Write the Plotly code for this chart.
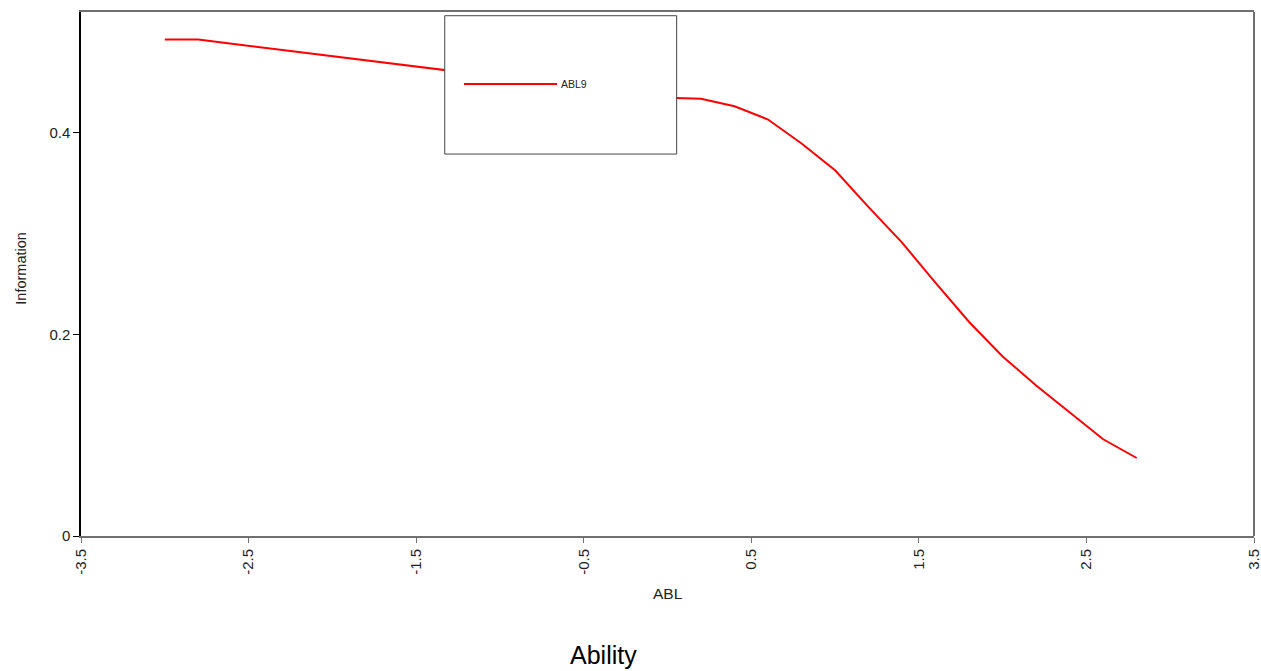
import plotly.graph_objects as go

# Item information curve for ABL9 over the ability scale
ability = [-3.0, -2.8, -2.6, -2.4, -2.2, -2.0, -1.8, -1.6, -1.4, -1.2,
           -1.0, -0.8, -0.6, -0.4, -0.2, 0.0, 0.2, 0.4, 0.6, 0.8,
           1.0, 1.2, 1.4, 1.6, 1.8, 2.0, 2.2, 2.4, 2.6, 2.8]
information = [0.4927, 0.4927, 0.4886, 0.4845, 0.4804, 0.4762, 0.4721, 0.4680, 0.4638, 0.4595,
               0.4555, 0.4515, 0.4475, 0.4435, 0.4395, 0.4350, 0.4340, 0.4265, 0.4133, 0.3895,
               0.3629, 0.3264, 0.2911, 0.2511, 0.2124, 0.1782, 0.1494, 0.1230, 0.0960, 0.0774]

x_ticks = [-3.5, -2.5, -1.5, -0.5, 0.5, 1.5, 2.5, 3.5]
x_tick_text = ["-3.5", "-2.5", "-1.5", "-0.5", "0.5", "1.5", "2.5", "3.5"]
y_ticks = [0, 0.2, 0.4]
y_tick_text = ["0", "0.2", "0.4"]

series_name = "ABL9"
line_color = "#ff0000"
frame_color = "#707070"
font_family = "Arial, 'Liberation Sans', sans-serif"
text_color = "#222222"

fig = go.Figure()
fig.add_trace(go.Scatter(
    x=ability, y=information, mode="lines", name=series_name,
    line=dict(color=line_color, width=2), showlegend=False,
))

fig.update_layout(
    width=1261, height=671,
    margin=dict(l=81, r=7, t=12, b=135),
    paper_bgcolor="white", plot_bgcolor="white",
    font=dict(family=font_family, size=15, color=text_color),
    xaxis=dict(
        range=[-3.5, 3.5], tickvals=x_ticks, ticktext=x_tick_text,
        tickangle=-90, ticks="outside", ticklen=5, tickcolor=frame_color,
        ticklabeloverflow="allow", automargin=False,
        showline=True, linecolor=frame_color, linewidth=2, mirror=True,
        showgrid=False, zeroline=False,
    ),
    yaxis=dict(
        range=[0, 0.52], tickvals=y_ticks, ticktext=y_tick_text,
        ticks="outside", ticklen=6, tickcolor="black", automargin=False,
        showline=True, linecolor="black", linewidth=1.5,
        showgrid=False, zeroline=False,
    ),
    shapes=[
        # right edge of the frame
        dict(type="line", xref="paper", yref="paper", x0=1, x1=1, y0=0, y1=1,
             line=dict(color=frame_color, width=2)),
        # legend box
        dict(type="rect", xref="paper", yref="paper",
             x0=0.3101, x1=0.5078, y0=0.7289, y1=0.9929,
             fillcolor="white", line=dict(color="#444444", width=1), layer="above"),
        # legend sample line
        dict(type="line", xref="paper", yref="paper",
             x0=0.3265, x1=0.4058, y0=0.8625, y1=0.8625,
             line=dict(color=line_color, width=2), layer="above"),
    ],
    annotations=[
        dict(text=series_name, xref="paper", yref="paper", x=0.4075, y=0.8625,
             xanchor="left", yanchor="middle", showarrow=False,
             font=dict(size=10.5, color=text_color)),
        dict(text="Information", xref="paper", yref="paper", x=-0.0512, y=0.512,
             textangle=-90, xanchor="center", yanchor="middle", showarrow=False,
             font=dict(size=14.5, color=text_color)),
        dict(text="ABL", xref="paper", yref="paper", x=0.5, y=-0.1088,
             xanchor="center", yanchor="middle", showarrow=False,
             font=dict(size=15.5, color=text_color)),
        dict(text="Ability", xref="paper", yref="paper", x=0.4453, y=-0.2278,
             xanchor="center", yanchor="middle", showarrow=False,
             font=dict(size=25, color="black")),
    ],
)

fig.write_html("out.html")
